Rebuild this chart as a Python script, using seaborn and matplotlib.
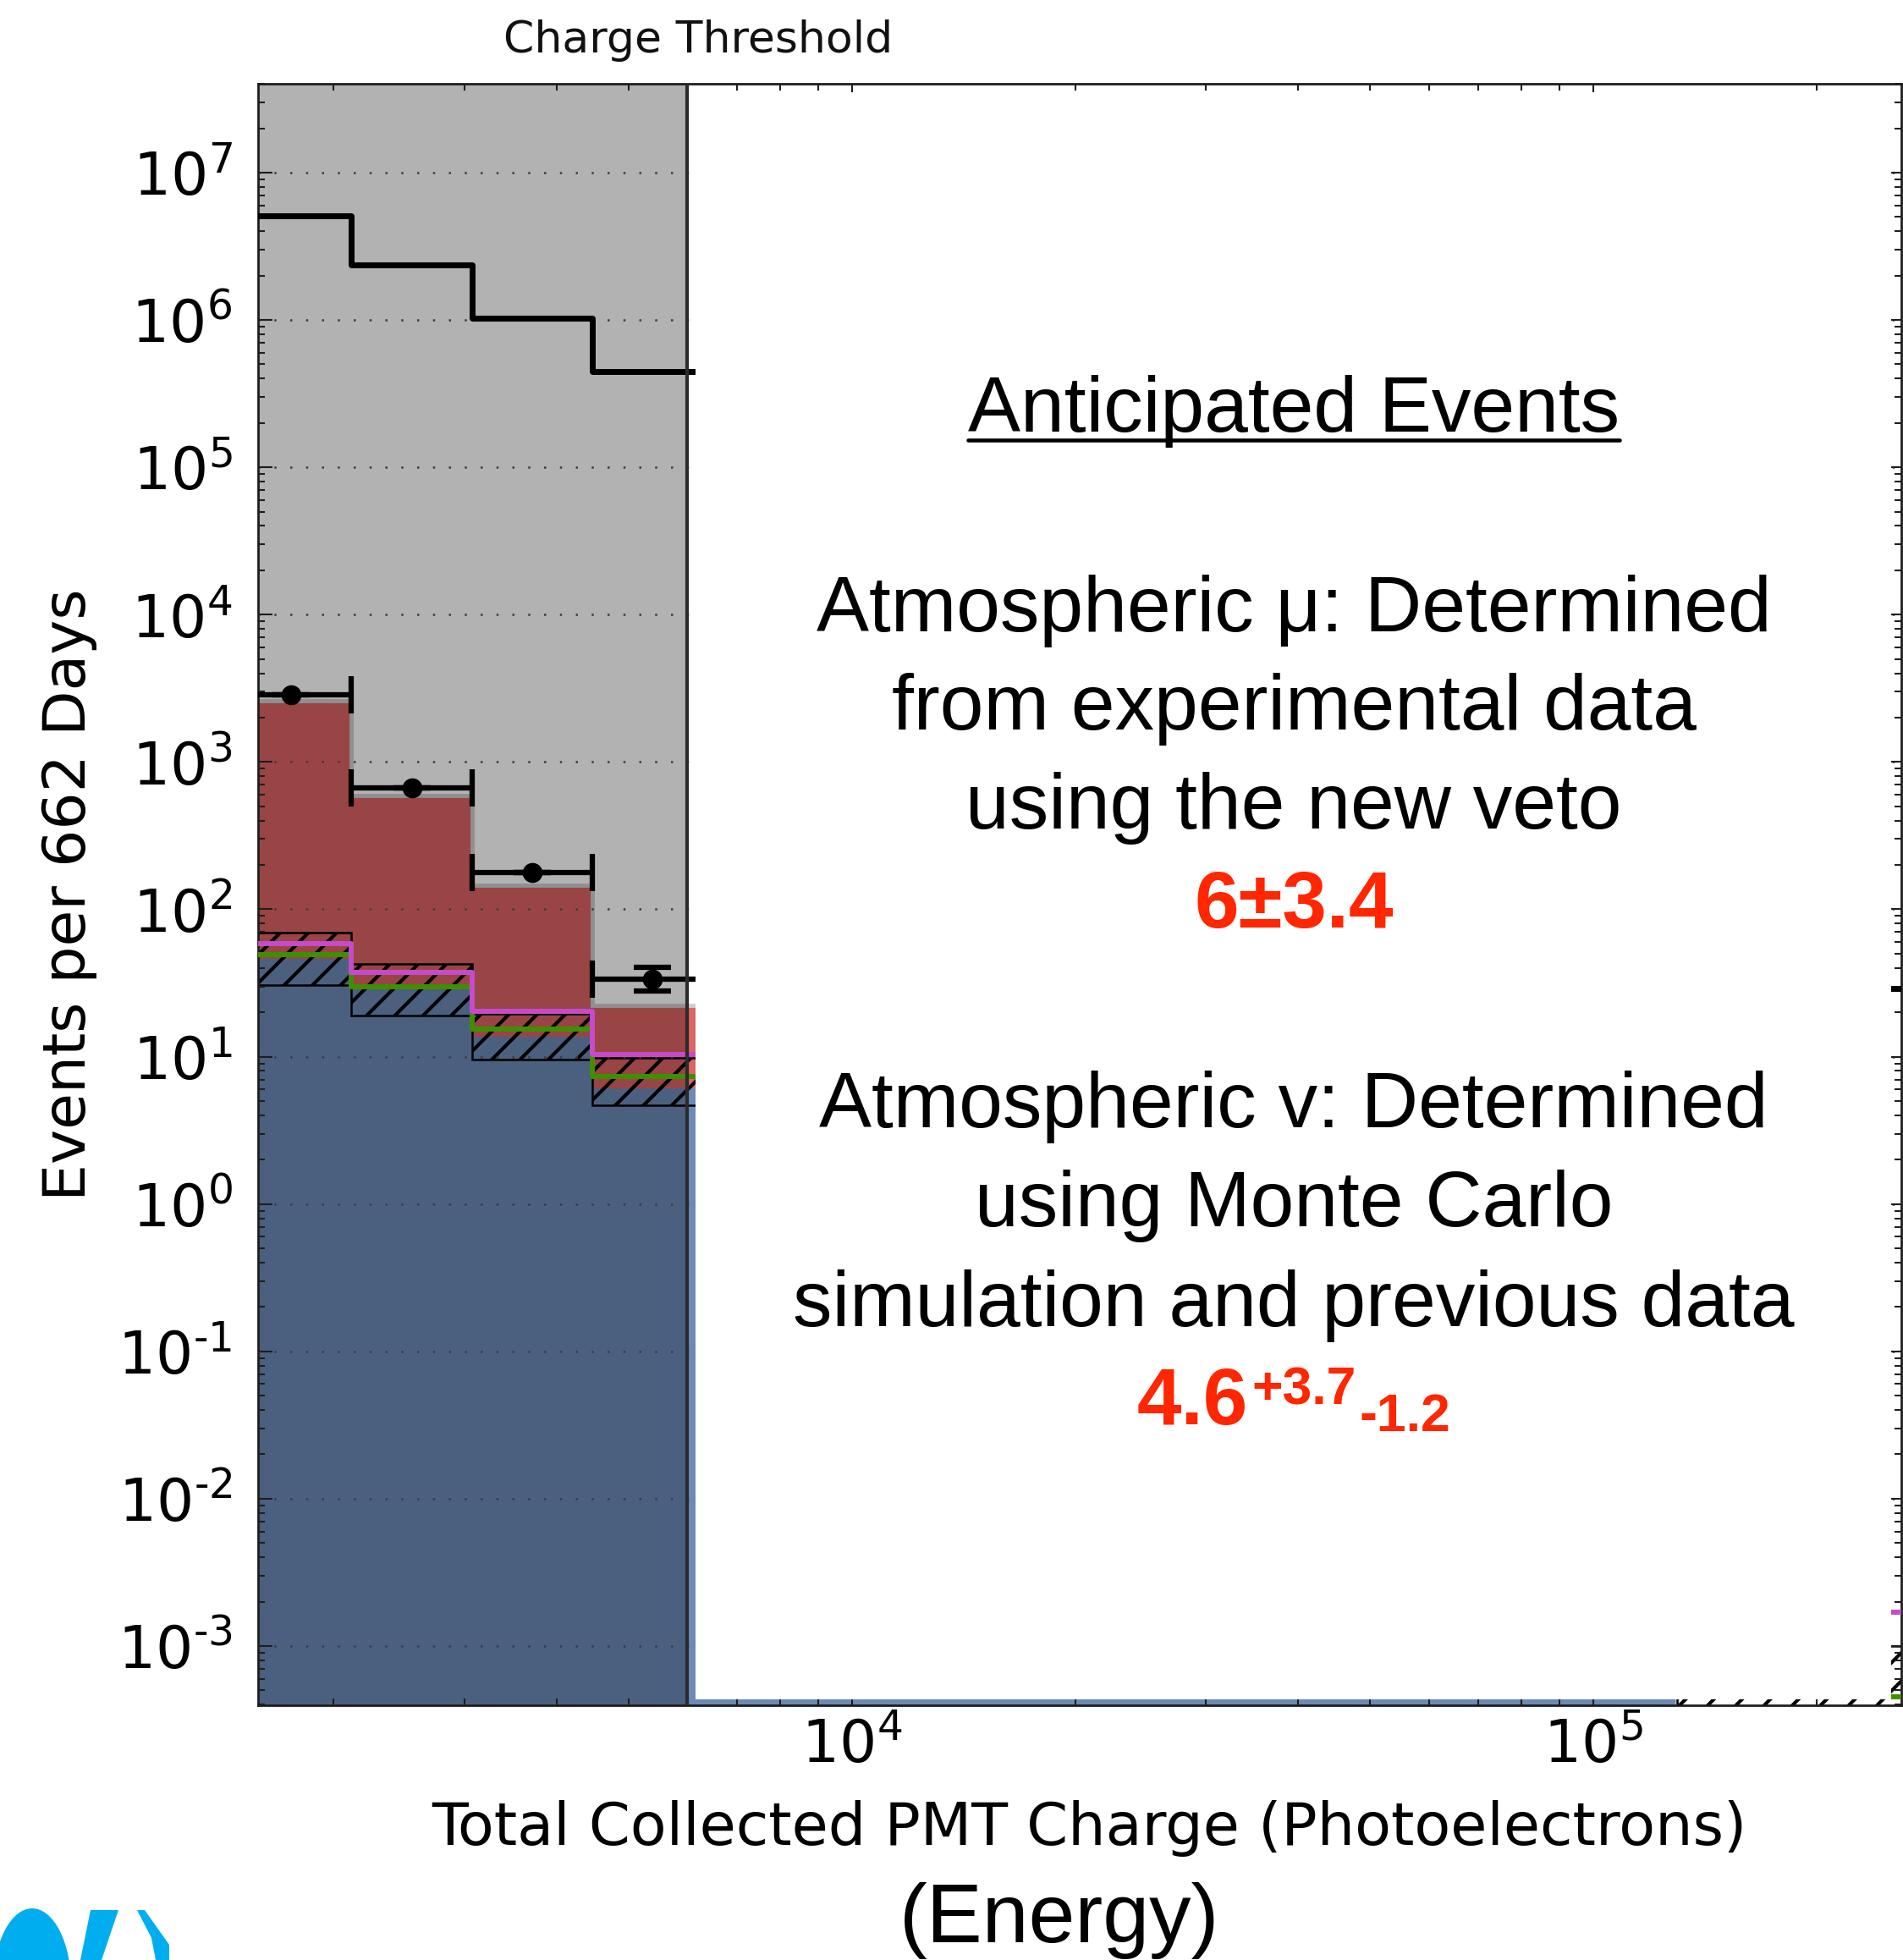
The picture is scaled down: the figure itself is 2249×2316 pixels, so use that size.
import numpy as np
import matplotlib
matplotlib.use("Agg")
import matplotlib.pyplot as plt
import seaborn as sns
from matplotlib.patches import Rectangle, Ellipse, Polygon
from matplotlib.lines import Line2D
from matplotlib.ticker import LogLocator, NullFormatter, FuncFormatter

# ---------------------------------------------------------------- data
# log10 bin edges of the total collected PMT charge (photoelectrons)
bin_edges_log10 = [3.1625, 3.325, 3.4875, 3.65, 3.8125, 3.975, 4.1375, 4.3,
                   4.4625, 4.625, 4.7875, 4.95, 5.1125, 5.275, 5.4375]

# all triggered events per bin
all_events = [5.1e6, 2.37e6, 1.03e6, 4.47e5, 1.9e5, 8.0e4, 3.3e4, 1.3e4,
              5.0e3, 1.9e3, 700, 250, 90, 29]
# stacked expectation (atmospheric neutrinos + atmospheric muons)
stack_total = [2590, 590, 146, 22.4, 3.4, 1.3, 0.52, 0.2, 0.075, 0.026,
               0.0088, 0.0019, 0, 0]
# atmospheric neutrino expectation
nu_total = [46, 28.5, 13.6, 6.1, 2.6, 1.05, 0.44, 0.17, 0.065, 0.024,
            0.0085, 0.0019, 0, 0]
nu_band_low = [30.6, 19.0, 9.6, 4.7, 1.9, 0.75, 0.3, 0.12, 0.045, 0.016,
               0.0055, 0.0012, 1e-5, 1e-5]
nu_band_high = [69.5, 42.5, 19.5, 9.8, 4.0, 1.6, 0.66, 0.26, 0.095, 0.036,
                0.0125, 0.0042, 0.0006, 0.001]
nu_line_lower = [49.4, 29.8, 15.4, 7.35, 3.0, 1.2, 0.5, 0.19, 0.072, 0.027,
                 0.0095, 0.0022, 0.0008, 0.00045]
nu_line_upper = [58.5, 37.5, 20.2, 10.4, 4.2, 1.7, 0.7, 0.27, 0.1, 0.038,
                 0.013, 0.0045, 0.0025, 0.0017]

# experimental data below the charge threshold
data_counts = [2860, 667, 177, 33.6]
data_err_low = [0, 0, 0, 5.7]
data_err_high = [0, 0, 0, 7.0]

threshold_pe = 6000

box_lines = ["Atmospheric \u03bc: Determined", "from experimental data",
             "using the new veto"]
box_lines_2 = ["Atmospheric v: Determined", "using Monte Carlo",
               "simulation and previous data"]
mu_estimate = "6\u00b13.4"
nu_estimate = ["4.6", "+3.7", "-1.2"]

# ---------------------------------------------------------------- style
RED = "#DC6464"
BLUE = "#6C8AB6"
GREEN = "#3F8F00"
MAGENTA = "#C64BCB"
RED_TEXT = "#FF2600"
LOGO = "#00AEEF"

W, H, DPI = 2249, 2316, 100

sns.set_theme(style="ticks")
plt.rcParams.update({
    "font.family": ["DejaVu Sans"],
    "mathtext.fontset": "dejavusans",
    "axes.unicode_minus": False,
    "hatch.linewidth": 3.0,
    "hatch.color": "black",
    "axes.edgecolor": "#1e1e1e",
    "axes.linewidth": 2.0,
    "axes.labelcolor": "black",
    "text.color": "black",
    "xtick.color": "black",
    "ytick.color": "black",
    "figure.facecolor": "white",
    "axes.facecolor": "white",
})

BOX_FONT = ["Liberation Sans", "DejaVu Sans"]


def fx(px):
    return px / W


def fy(py):
    return 1.0 - py / H


def decade_label(val, pos):
    exp = int(round(np.log10(val)))
    return r"$\mathdefault{10^{%s}}$" % str(exp).replace("-", "\u2010")


AX_L, AX_R, AX_T, AX_B = 305, 2247, 99, 2015
fig = plt.figure(figsize=(W / DPI, H / DPI), dpi=DPI)
ax = fig.add_axes([fx(AX_L), fy(AX_B), (AX_R - AX_L) / W, (AX_B - AX_T) / H])
ax.set_xscale("log")
ax.set_yscale("log")

edges = 10.0 ** np.array(bin_edges_log10)
FLOOR = 1e-9


def floored(v):
    a = np.asarray(v, dtype=float)
    return np.where(a > 0, a, FLOOR)


def step_y(v):
    a = np.asarray(v, dtype=float)
    return np.append(a, a[-1])


# stacked histogram fills
ax.stairs(floored(stack_total), edges, baseline=FLOOR, fill=True,
          color=RED, zorder=1.0)
ax.stairs(floored(nu_total), edges, baseline=FLOOR, fill=True,
          color=BLUE, zorder=1.1)
ax.stairs(floored(stack_total), edges, baseline=None, fill=False,
          color="#cfcfcf", linewidth=3.5, zorder=1.2)
# neutrino uncertainty band
ax.stairs(floored(nu_band_high), edges, baseline=floored(nu_band_low),
          fill=True, facecolor="none", edgecolor="black", hatch="/",
          linewidth=1.8, zorder=1.3)

# region below the charge threshold
ax.axvspan(edges[0] / 2, threshold_pe, color="black", alpha=0.3, lw=0,
           zorder=2.4)

# step lines
sns.lineplot(x=edges, y=step_y(nu_line_lower), drawstyle="steps-post",
             color=GREEN, linewidth=4.3, ax=ax, zorder=3.0,
             estimator=None, sort=False)
sns.lineplot(x=edges, y=step_y(nu_line_upper), drawstyle="steps-post",
             color=MAGENTA, linewidth=4.3, ax=ax, zorder=3.1,
             estimator=None, sort=False)
sns.lineplot(x=edges, y=step_y(all_events), drawstyle="steps-post",
             color="black", linewidth=5.0, ax=ax, zorder=4.0,
             estimator=None, sort=False)

# data points
n = len(data_counts)
lo, hi = edges[:n], edges[1:n + 1]
centers = np.sqrt(lo * hi)
ax.errorbar(centers, data_counts, xerr=[centers - lo, hi - centers],
            yerr=[data_err_low, data_err_high], fmt="o", color="black",
            ms=16, capsize=16, elinewidth=4.5, capthick=4.5, zorder=6)

ax.axvline(threshold_pe, color="#2b2b2b", lw=3.0, zorder=6)

# axes
ax.set_xlim(10 ** 3.199, 10 ** 5.4155)
ax.set_ylim(10 ** -3.402, 10 ** 7.603)
ax.set_axisbelow(False)
ax.grid(True, which="major", axis="y", color="#3c3c3c", linewidth=1.8,
        linestyle=(0, (1, 6.5)))
ax.grid(False, which="major", axis="x")
for axis in (ax.xaxis, ax.yaxis):
    axis.set_major_locator(LogLocator(base=10, numticks=30))
    axis.set_minor_locator(LogLocator(base=10, subs=np.arange(2, 10),
                                      numticks=30))
    axis.set_minor_formatter(NullFormatter())
    axis.set_major_formatter(FuncFormatter(decade_label))
ax.tick_params(which="both", direction="in", top=True, right=True,
               width=1.5, color="#1e1e1e")
ax.tick_params(which="major", length=12)
ax.tick_params(which="minor", length=6)
ax.tick_params(axis="y", which="major", labelsize=50, pad=22)
ax.tick_params(axis="x", which="major", labelsize=50, pad=10)

ax.set_xlabel("Total Collected PMT Charge (Photoelectrons)", fontsize=50.5)
ax.set_ylabel("Events per 662 Days", fontsize=50)
ax.xaxis.set_label_coords(0.5057, -0.0585)
ax.yaxis.set_label_coords(-0.0978, 0.5)

fig.text(fx(825), fy(62), "Charge Threshold", ha="center", va="baseline",
         fontsize=37.5, color="#111111")

# ---------------------------------------------------------------- text panel
fig.add_artist(Rectangle((fx(822), fy(2008)), (2235 - 822) / W,
                         (2008 - 109) / H, transform=fig.transFigure,
                         facecolor="white", edgecolor="none", zorder=10))

CX = 1529
head = fig.text(fx(CX), fy(510), "Anticipated Events", ha="center",
                va="baseline", fontsize=67, family=BOX_FONT, zorder=11)
for text, base in zip(box_lines, (746, 862, 979)):
    fig.text(fx(CX), fy(base), text, ha="center", va="baseline",
             fontsize=67, family=BOX_FONT, zorder=11)
fig.text(fx(CX), fy(1096), mu_estimate, ha="center", va="baseline",
         fontsize=68, fontweight="bold", color=RED_TEXT, family=BOX_FONT,
         zorder=11)
for text, base in zip(box_lines_2, (1332, 1449, 1567)):
    fig.text(fx(CX), fy(base), text, ha="center", va="baseline",
             fontsize=67, family=BOX_FONT, zorder=11)

t_main = fig.text(0, fy(1683), nu_estimate[0], ha="left", va="baseline",
                  fontsize=68, fontweight="bold", color=RED_TEXT,
                  family=BOX_FONT, zorder=11)
t_up = fig.text(0, fy(1660), nu_estimate[1], ha="left", va="baseline",
                fontsize=45, fontweight="bold", color=RED_TEXT,
                family=BOX_FONT, zorder=11)
t_dn = fig.text(0, fy(1691), nu_estimate[2], ha="left", va="baseline",
                fontsize=45, fontweight="bold", color=RED_TEXT,
                family=BOX_FONT, zorder=11)

fig.text(fx(1252), fy(2295), "(Energy)", ha="center", va="baseline",
         fontsize=71, family=BOX_FONT, zorder=11)

# logo fragment at the lower left corner
fig.add_artist(Ellipse((fx(38), fy(2345)), 92 / W, 180 / H,
                       transform=fig.transFigure, color=LOGO, lw=0, zorder=11))
fig.add_artist(Polygon([(fx(107), fy(2257)), (fx(140), fy(2257)),
                        (fx(120), fy(2316)), (fx(95), fy(2316))],
                       closed=True, transform=fig.transFigure, color=LOGO,
                       lw=0, zorder=11))
fig.add_artist(Polygon([(fx(162), fy(2257)), (fx(171), fy(2257)),
                        (fx(200), fy(2298)), (fx(200), fy(2316)),
                        (fx(184), fy(2316)), (fx(179), fy(2290))],
                       closed=True, transform=fig.transFigure, color=LOGO,
                       lw=0, zorder=11))

# lay out the asymmetric-error estimate and the heading underline
fig.canvas.draw()
r = fig.canvas.get_renderer()
w_main = t_main.get_window_extent(r).width
w_up = t_up.get_window_extent(r).width
w_dn = t_dn.get_window_extent(r).width
gap = 4
total = w_main + gap + w_up + gap + w_dn
x0 = CX - total / 2
t_main.set_x(fx(x0))
t_up.set_x(fx(x0 + w_main + gap))
t_dn.set_x(fx(x0 + w_main + gap + w_up + gap))

bb = head.get_window_extent(r)
fig.add_artist(Line2D([bb.x0 / W, bb.x1 / W], [fy(519.5), fy(519.5)],
                      transform=fig.transFigure, color="black", lw=3.3,
                      zorder=12))

fig.savefig("out.png", dpi=DPI)
